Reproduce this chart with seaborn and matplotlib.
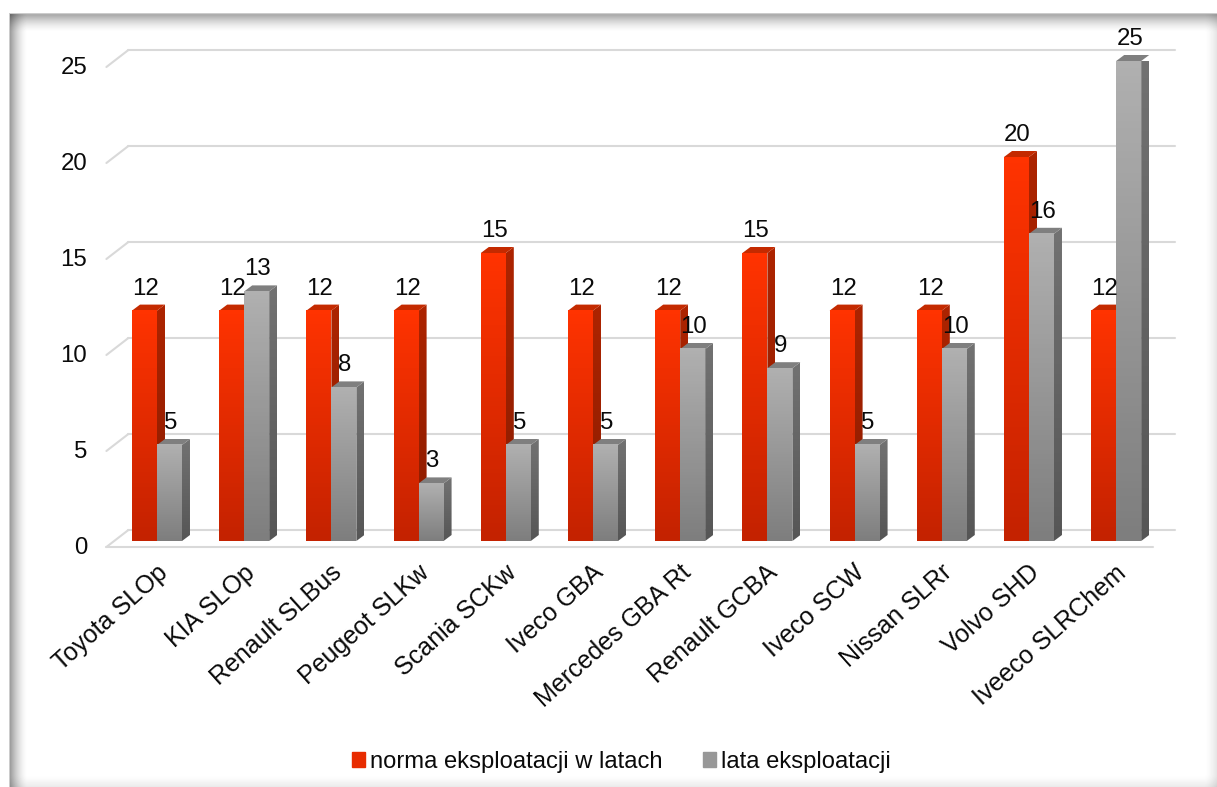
import numpy as np
import pandas as pd
import seaborn as sns
import matplotlib.pyplot as plt
from matplotlib.colors import LinearSegmentedColormap
from matplotlib.patches import Patch, Polygon
from matplotlib.transforms import ScaledTranslation

# values
vehicles = ['Toyota SLOp', 'KIA SLOp', 'Renault SLBus', 'Peugeot SLKw', 'Scania SCKw', 'Iveco GBA',
            'Mercedes GBA Rt', 'Renault GCBA', 'Iveco SCW', 'Nissan SLRr', 'Volvo SHD', 'Iveeco SLRChem']
norma = [12, 12, 12, 12, 15, 12, 12, 15, 12, 12, 20, 12]
lata = [5, 13, 8, 3, 5, 5, 10, 9, 5, 10, 16, 25]
series_names = ['norma eksploatacji w latach', 'lata eksploatacji']
yticks = [0, 5, 10, 15, 20, 25]

W, H = 1217, 787
DPI = 100

sns.set_theme(style='white')
plt.rcParams['font.family'] = ['Liberation Sans', 'DejaVu Sans']

fig = plt.figure(figsize=(W / DPI, H / DPI), dpi=DPI)


def px(dx, dy):
    # pixel offset, y up
    return ScaledTranslation(dx / DPI, dy / DPI, fig.dpi_scale_trans)


def gradient(top, bottom):
    return LinearSegmentedColormap.from_list('g', [top, bottom])


# picture frame with soft inner shadow
bg = fig.add_axes([0, 0, 1, 1], zorder=0)
bg.set_axis_off()
xx, yy = np.meshgrid(np.arange(W), np.arange(H))
left = np.clip((xx - 10) / 17, 0, 1)
top = np.clip((yy - 15) / 17, 0, 1)
right = np.clip((W - 1 - xx) / 12, 0, 1)
bottom = np.clip((H - 1 - yy) / 12, 0, 1)
shade = (1 - 0.38 * (1 - left) ** 1.6) * (1 - 0.32 * (1 - top) ** 1.6) \
    * (1 - 0.1 * (1 - right) ** 1.5) * (1 - 0.08 * (1 - bottom) ** 1.5)
shade[(xx < 10) | (yy < 14)] = 1
shade[((xx == 9) & (yy >= 13)) | ((yy == 13) & (xx >= 9))] = 0.8
bg.imshow(shade, cmap='gray', vmin=0, vmax=1, aspect='auto', interpolation='nearest')

# axes placed so that data 0 / 25 fall on the front of the bars
ax_left, ax_right = 113.4, 1159.8
ax_bottom, ax_top = 541.0, 61.0
ax = fig.add_axes([ax_left / W, 1 - ax_bottom / H, (ax_right - ax_left) / W, (ax_bottom - ax_top) / H], zorder=1)
ax.patch.set_alpha(0)

df = pd.DataFrame({
    'pojazd': vehicles * 2,
    'lata': norma + lata,
    'seria': [series_names[0]] * len(vehicles) + [series_names[1]] * len(vehicles),
})
sns.barplot(data=df, x='pojazd', y='lata', hue='seria', order=vehicles, hue_order=series_names,
            palette=['#E82C00', '#989898'], width=0.573, gap=0, dodge=True, saturation=1,
            legend=False, ax=ax, zorder=3)
ax.set_xlim(-0.5, 11.5)
ax.set_ylim(0, 25)
ax.set_xlabel('')
ax.set_ylabel('')
sns.despine(ax=ax, left=True, bottom=True)

# gridlines on the back wall, stubs on the side wall, floor edge
grid_c = '#D9D9D9'
trans = ax.get_yaxis_transform()
for t in yticks:
    ax.plot([0, 1], [t, t], color=grid_c, lw=1.5, transform=trans + px(15, 11), clip_on=False, zorder=1)
    p0 = trans.transform((0, t)) + np.array([-7, -6])
    p1 = trans.transform((0, t)) + np.array([15, 11])
    ax.plot([p0[0], p1[0]], [p0[1], p1[1]], color=grid_c, lw=1.5, transform=None, clip_on=False, zorder=1)
ax.plot([0, 1], [0, 0], color=grid_c, lw=1.5, transform=trans + px(-7, -6), clip_on=False, zorder=1)

# 3d faces and gradients for each bar
depth_x, depth_y = 8, 6
looks = [
    {'front': ('#FF3300', '#C42200'), 'side': ('#AD2400', '#8A1C00'), 'top': '#C42A00'},
    {'front': ('#B0B0B0', '#7E7E7E'), 'side': ('#727272', '#565656'), 'top': '#7F7F7F'},
]
n = len(vehicles)
bars = list(ax.patches)[:2 * n]
for i, bar in enumerate(bars):
    look = looks[0] if i < n else looks[1]
    x0, w, h = bar.get_x(), bar.get_width(), bar.get_height()
    z = 3 + (0 if i < n else 1) + (bar.get_x() / 100)
    sx = depth_x / (ax_right - ax_left) * 12
    sy = depth_y / (ax_bottom - ax_top) * 25
    # side face with gradient clipped to polygon
    side = Polygon([(x0 + w, 0), (x0 + w + sx, sy), (x0 + w + sx, h + sy), (x0 + w, h)],
                   closed=True, transform=ax.transData, facecolor='none', edgecolor='none', clip_on=False)
    ax.add_patch(side)
    im = ax.imshow(np.linspace(0, 1, 64).reshape(-1, 1), cmap=gradient(*look['side']), aspect='auto',
                   extent=(x0 + w, x0 + w + sx, 0, h + sy), origin='upper', zorder=z)
    im.set_clip_path(side)
    # top face
    ax.add_patch(Polygon([(x0, h), (x0 + sx, h + sy), (x0 + w + sx, h + sy), (x0 + w, h)], closed=True,
                         facecolor=look['top'], edgecolor='none', clip_on=False, zorder=z))
    # front face
    im = ax.imshow(np.linspace(0, 1, 64).reshape(-1, 1), cmap=gradient(*look['front']), aspect='auto',
                   extent=(x0, x0 + w, 0, h), origin='upper', zorder=z + 0.01)
    im.set_clip_on(False)
    bar.set_visible(False)
    ax.text(x0 + w / 2, h, f'{h:.0f}', ha='center', va='center', fontsize=17.3, color='#0A0A0A',
            transform=ax.transData + px(1, 22), zorder=10, clip_on=False)
ax.set_xlim(-0.5, 11.5)
ax.set_ylim(0, 25)

# tick labels
ax.set_yticks(yticks)
ax.tick_params(axis='y', length=0, pad=19, labelsize=17.3, labelcolor='#0A0A0A')
for lab in ax.get_yticklabels():
    lab.set_transform(lab.get_transform() + px(0, -5))
ax.set_xticks(range(n))
ax.set_xticklabels(vehicles, rotation=42, ha='right', rotation_mode='anchor', fontsize=18, color='#0A0A0A')
ax.tick_params(axis='x', length=0, pad=14)
for lab in ax.get_xticklabels():
    lab.set_transform(lab.get_transform() + px(-1, 0))

# legend, squares get the same gradient as the bars
handles = [Patch(color='#E82C00', label=series_names[0]), Patch(color='#989898', label=series_names[1])]
leg = fig.legend(handles=handles, loc='center', bbox_to_anchor=(621.5 / W, 1 - 762 / H), ncol=2, frameon=False,
                 fontsize=17.15, handlelength=0.55, handleheight=0.55, handletextpad=0.2, columnspacing=1.72,
                 labelcolor='#0A0A0A')
fig.canvas.draw()
for patch, look in zip(leg.get_patches(), looks):
    bb = patch.get_window_extent()
    a = fig.add_axes([bb.x0 / W, bb.y0 / H, bb.width / W, bb.height / H], zorder=5)
    a.imshow(np.linspace(0, 1, 32).reshape(-1, 1), cmap=gradient(*look['front']), aspect='auto')
    a.set_axis_off()

fig.savefig('out.png', dpi=DPI)
